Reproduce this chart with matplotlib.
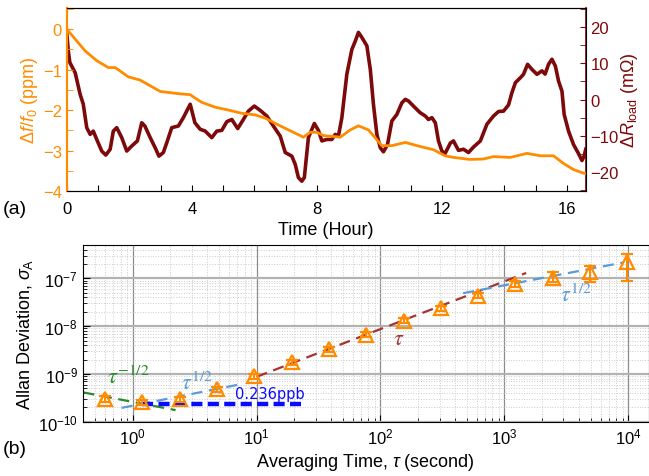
import matplotlib as mpl

mpl.use("Agg")
import matplotlib.pyplot as plt
from matplotlib.ticker import LogLocator, MultipleLocator, NullFormatter

mpl.rcParams.update(
    {
        "font.family": "Liberation Sans",
        "mathtext.fontset": "custom",
        "mathtext.rm": "Liberation Sans",
        "mathtext.it": "Liberation Sans:italic",
        "mathtext.bf": "Liberation Sans:bold",
        "font.size": 12,
        "xtick.labelsize": 11,
        "ytick.labelsize": 11,
        "xtick.direction": "in",
        "ytick.direction": "in",
    }
)

ORANGE = "#ff8c00"
DARKRED = "#7d0a0a"

# --- (a) drift record ---
t_freq = [0.0, 0.59, 0.96, 1.33, 1.55, 1.97, 2.35, 2.99, 3.2, 3.63, 3.95, 4.1, 4.32,
          4.75, 5.17, 5.6, 6.03, 6.35, 6.67, 7.09, 7.57, 7.79, 8.0, 8.21, 8.75, 9.07,
          9.33, 9.65, 10.08, 10.4, 10.83, 11.3, 11.73, 12.1, 12.37, 12.9, 13.33, 13.65,
          14.19, 14.72, 15.15, 15.57, 15.89, 16.21, 16.53, 16.6]
df_ppm = [0.0, -0.54, -0.78, -0.95, -0.95, -1.18, -1.26, -1.54, -1.56, -1.6, -1.62,
          -1.7, -1.81, -1.93, -2.0, -2.08, -2.12, -2.2, -2.33, -2.49, -2.67, -2.55,
          -2.55, -2.63, -2.67, -2.49, -2.39, -2.49, -2.88, -2.88, -2.8, -2.9, -2.98,
          -3.13, -3.17, -3.22, -3.21, -3.15, -3.17, -3.07, -3.13, -3.13, -3.32, -3.47,
          -3.56, -3.57]

t_load = [0.0, 0.05, 0.1, 0.27, 0.43, 0.53, 0.64, 0.75, 0.85, 0.96, 1.12, 1.25, 1.39,
          1.49, 1.6, 1.76, 1.92, 2.08, 2.26, 2.4, 2.5, 2.67, 2.83, 2.95, 3.09, 3.2,
          3.36, 3.57, 3.73, 3.95, 4.1, 4.27, 4.43, 4.64, 4.8, 4.96, 5.12, 5.28, 5.47,
          5.65, 5.81, 6.0, 6.19, 6.4, 6.61, 6.83, 6.99, 7.2, 7.31, 7.41, 7.52, 7.6,
          7.73, 7.92, 8.05, 8.16, 8.32, 8.48, 8.59, 8.69, 8.8, 8.96, 9.12, 9.23, 9.33,
          9.44, 9.6, 9.71, 9.81, 9.92, 10.03, 10.13, 10.26, 10.4, 10.56, 10.72, 10.83,
          10.93, 11.09, 11.3, 11.47, 11.57, 11.68, 11.79, 11.89, 12.0, 12.1, 12.27,
          12.37, 12.53, 12.69, 12.85, 13.01, 13.23, 13.44, 13.65, 13.81, 13.97, 14.13,
          14.24, 14.35, 14.51, 14.61, 14.74, 14.88, 15.04, 15.2, 15.3, 15.41, 15.52,
          15.63, 15.73, 15.84, 15.91, 16.05, 16.21, 16.37, 16.48, 16.55, 16.6]
dr_mohm = [18.5, 13.4, 10.2, 7.4, 1.4, -1.3, -7.75, -9.6, -8.7, -11.0, -14.2, -15.3,
           -13.7, -8.7, -7.75, -10.5, -14.2, -12.8, -11.4, -6.4, -7.3, -10.5, -13.3,
           -15.6, -14.6, -11.9, -7.75, -7.3, -5.0, -1.3, -6.4, -8.2, -8.7, -10.5, -8.7,
           -8.5, -6.1, -5.5, -8.0, -5.5, -3.2, -1.8, -3.0, -4.55, -7.3, -10.1, -14.6,
           -15.6, -17.9, -21.5, -22.5, -21.5, -10.5, -6.6, -8.5, -11.4, -11.0, -11.0,
           -9.6, -10.1, -5.0, 7.0, 13.8, 16.1, 18.5, 17.1, 14.8, 8.3, -1.3, -9.6, -13.3,
           -14.4, -12.4, -5.9, -4.1, -0.9, 0.05, -0.4, -1.8, -3.6, -4.55, -5.5, -5.0,
           -6.4, -11.4, -14.2, -14.9, -12.0, -11.4, -14.0, -13.7, -14.6, -13.1, -11.4,
           -6.8, -4.55, -3.3, -3.2, -1.5, 1.9, 4.65, 6.0, 6.95, 9.7, 8.3, 6.95, 7.9, 7.0,
           9.7, 11.1, 9.2, 5.1, 2.3, -4.1, -8.7, -12.4, -14.9, -16.8, -15.6, -13.7]

# --- (b) Allan deviation ---
tau = [0.6, 1.2, 2.4, 4.8, 9.6, 19.2, 38.4, 76.8, 153.6, 307.2, 614.4, 1228.8,
       2457.6, 4915.2, 9830.4]
adev = [3.0e-10, 2.55e-10, 2.95e-10, 4.8e-10, 9.0e-10, 1.76e-9, 3.3e-9, 6.6e-9,
        1.3e-8, 2.4e-8, 4.3e-8, 7.6e-8, 1.0e-7, 1.35e-7, 2.2e-7]
adev_lo = [2.6e-10, 2.2e-10, 2.55e-10, 4.2e-10, 7.9e-10, 1.55e-9, 2.9e-9, 5.8e-9,
           1.14e-8, 2.1e-8, 3.8e-8, 6.6e-8, 8.3e-8, 8.3e-8, 8.9e-8]
adev_hi = [3.4e-10, 2.9e-10, 3.35e-10, 5.4e-10, 1.02e-9, 2.0e-9, 3.75e-9, 7.5e-9,
           1.47e-8, 2.7e-8, 4.9e-8, 8.7e-8, 1.35e-7, 1.8e-7, 3.2e-7]

# reference slopes, as end points
white_tau, white_sig = [0.4, 2.22], [4.1e-10, 1.75e-10]
rw1_tau, rw1_sig = [0.815, 7.0], [1.95e-10, 5.9e-10]
drift_tau, drift_sig = [10.0, 1500.0], [8.7e-10, 1.3e-7]
rw2_tau, rw2_sig = [465.0, 9100.0], [4.9e-8, 2.15e-7]
floor_tau, floor_sig = [1.2, 23.0], [2.36e-10, 2.36e-10]

fig = plt.figure(figsize=(6.49, 4.77), dpi=100)

# ---------------- (a) ----------------
ax1 = fig.add_axes([0.1028, 0.5975, 0.7997, 0.3835])
ax2 = ax1.twinx()
ax2.plot(t_load, dr_mohm, color=DARKRED, lw=2.6)
ax1.plot(t_freq, df_ppm, color=ORANGE, lw=2.0)
ax1.set_zorder(ax2.get_zorder() + 1)
ax1.patch.set_visible(False)

ax1.set_xlim(0, 16.6)
ax1.set_ylim(-4, 0.52)
ax2.set_ylim(-25.2, 25.2)
ax1.xaxis.set_major_locator(MultipleLocator(4))
ax1.xaxis.set_minor_locator(MultipleLocator(1))
ax1.yaxis.set_major_locator(MultipleLocator(1))
ax1.yaxis.set_minor_locator(MultipleLocator(0.5))
ax2.yaxis.set_major_locator(MultipleLocator(10))
ax2.yaxis.set_minor_locator(MultipleLocator(5))
ax1.tick_params(axis="x", which="both", top=False, length=4, width=0.8, pad=7,
                labelsize=12)
ax1.tick_params(axis="y", which="both", colors=ORANGE, length=4, labelsize=12)
ax2.tick_params(axis="y", which="both", colors=DARKRED, length=4, labelsize=12)
ax1.spines["left"].set_color(ORANGE)
ax1.spines["left"].set_linewidth(1.5)
ax2.spines["left"].set_color(ORANGE)
ax2.spines["left"].set_linewidth(1.5)
ax2.spines["right"].set_color(DARKRED)
ax2.spines["right"].set_linewidth(1.2)
ax1.set_xlabel("Time (Hour)", fontsize=13, labelpad=4)
ax1.set_ylabel(r"$\Delta f/f_0$ (ppm)", color=ORANGE, fontsize=13, labelpad=2)
ax2.set_ylabel(r"$\Delta R_\mathrm{load}$ (m$\Omega$)", color=DARKRED, fontsize=13,
               labelpad=0)
fig.text(0.005, 0.56, "(a)", fontsize=14, va="center")

# ---------------- (b) ----------------
ax = fig.add_axes([0.1274, 0.1138, 0.8726, 0.3705])
ax.set_xscale("log")
ax.set_yscale("log")
ax.set_xlim(0.395, 1.47e4)
ax.set_ylim(1e-10, 5e-7)

ax.grid(True, which="major", color="0.55", lw=0.9)
ax.grid(True, which="minor", color="0.8", lw=0.7, ls=":")
ax.yaxis.grid(True, which="major", color="0.7", lw=1.6)
ax.xaxis.set_minor_locator(LogLocator(base=10, subs=range(2, 10), numticks=20))
ax.yaxis.set_minor_locator(LogLocator(base=10, subs=range(2, 10), numticks=20))
ax.xaxis.set_minor_formatter(NullFormatter())
ax.yaxis.set_minor_formatter(NullFormatter())
ax.yaxis.set_major_locator(LogLocator(base=10, numticks=10))
ax.tick_params(which="both", top=False, right=False, labelsize=12)
ax.tick_params(which="major", length=5)
ax.tick_params(which="minor", length=3)
ax.set_axisbelow(True)

ax.plot(white_tau, white_sig, color="#2a8a2a", lw=1.6, ls=(0, (5, 3)))
ax.plot(rw1_tau, rw1_sig, color="#5b9bd5", lw=1.6, ls=(0, (5, 3)))
ax.plot(drift_tau, drift_sig, color="#a5332f", lw=1.6, ls=(0, (5, 3)))
ax.plot(rw2_tau, rw2_sig, color="#5b9bd5", lw=1.6, ls=(0, (5, 3)))
ax.plot(floor_tau, floor_sig, color="#0a0aff", lw=3.2, ls=(0, (2.5, 1.2)))

yerr = [[a - lo for a, lo in zip(adev, adev_lo)], [hi - a for a, hi in zip(adev, adev_hi)]]
ax.errorbar(tau, adev, yerr=yerr, fmt="^", ms=10, mfc="none", mec=ORANGE, mew=1.6,
            ecolor=ORANGE, elinewidth=1.5, capsize=4, capthick=1.5, zorder=5)

ax.text(0.62, 6.6e-10, r"$\tau^{-1/2}$", color="#2a8a2a", fontsize=16,
        math_fontfamily="stix")
ax.text(2.45, 4.9e-10, r"$\tau^{1/2}$", color="#5b9bd5", fontsize=16,
        math_fontfamily="stix")
ax.text(6.7, 3.15e-10, "0.236ppb", color="#0a0aff", fontsize=10.5,
        family="DejaVu Sans")
ax.text(126, 4.2e-9, r"$\tau$", color="#a5332f", fontsize=16, math_fontfamily="stix")
ax.text(2800, 3.4e-8, r"$\tau^{1/2}$", color="#5b9bd5", fontsize=16,
        math_fontfamily="stix")

ax.set_xlabel(r"Averaging Time, $\tau$ (second)", fontsize=13, labelpad=3)
ax.set_ylabel(r"Allan Deviation, $\sigma_\mathrm{A}$", fontsize=13, labelpad=2)
fig.text(0.005, 0.058, "(b)", fontsize=14, va="center")

fig.savefig("out.png", dpi=100)
